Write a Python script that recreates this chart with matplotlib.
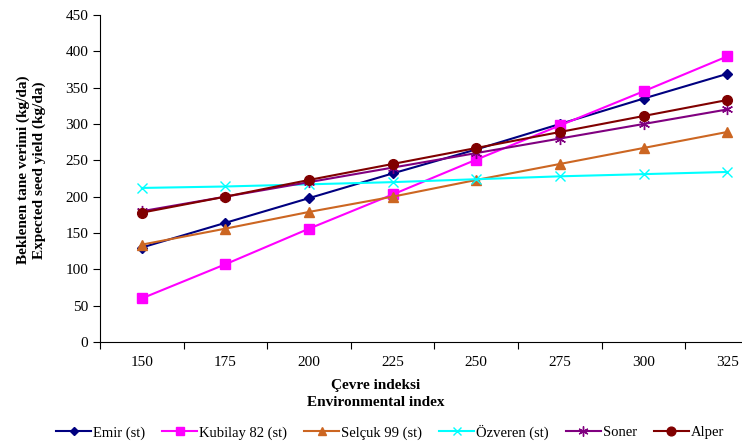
import numpy as np
import matplotlib.pyplot as plt
from matplotlib.ticker import FixedLocator, NullFormatter

plt.rcParams['font.family'] = ['Liberation Serif', 'DejaVu Serif']

env_index = ['150', '175', '200', '225', '250', '275', '300', '325']
emir = [130, 164, 198, 232, 265, 300, 335, 369]
kubilay = [60, 107, 156, 203, 251, 298, 345, 393]
selcuk = [134, 156, 179, 200, 223, 245, 267, 289]
ozveren = [212, 214, 217, 220, 224, 228, 231, 234]
soner = [180, 200, 220, 240, 260, 280, 300, 320]
alper = [178, 200, 223, 245, 267, 289, 311, 333]

series = [
    ('Emir (st)', emir, '#000080', 'D', 5),
    ('Kubilay 82 (st)', kubilay, '#FF00FF', 's', 7),
    ('Selçuk 99 (st)', selcuk, '#CC6622', '^', 7),
    ('Özveren (st)', ozveren, '#00FFFF', 'x', 7),
    ('Soner', soner, '#800080', (6, 2, 0), 8),
    ('Alper', alper, '#800000', 'o', 7),
]

fig = plt.figure(figsize=(7.42, 4.41), dpi=100)
# axis extends beyond the right edge, like the cropped original
ax = fig.add_axes([100/742, 1 - 342/441, 669/742, 327/441])

x = np.arange(len(env_index))
for name, vals, col, mk, ms in series:
    ax.plot(x, vals, color=col, marker=mk, markersize=ms, linewidth=1.5,
            markeredgecolor=col, markerfacecolor=col, label=name)

ax.set_xlim(-0.5, 7.5)
ax.set_ylim(0, 450)
ax.set_yticks(np.arange(0, 451, 50))
ax.xaxis.set_major_locator(FixedLocator(np.arange(-0.5, 8, 1)))
ax.xaxis.set_major_formatter(NullFormatter())
ax.set_xticks(x, minor=True)
ax.set_xticklabels(env_index, minor=True)
ax.tick_params(axis='x', which='minor', length=0, pad=10, labelsize=11)
ax.tick_params(axis='x', which='major', length=5, direction='out')
ax.tick_params(axis='y', length=5, direction='out', labelsize=11)
ax.spines['top'].set_visible(False)
ax.spines['right'].set_visible(False)

fig.text(31/742, 1 - 170/441, 'Beklenen tane verimi (kg/da)\nExpected seed yield (kg/da)',
         rotation=90, ha='center', va='center', fontweight='bold', fontsize=11,
         linespacing=1.2)
fig.text(376/742, 1 - 394/441, 'Çevre indeksi\nEnvironmental index',
         ha='center', va='center', fontweight='bold', fontsize=11, linespacing=1.4)

fig.legend(loc='center left', bbox_to_anchor=(56/742, 1 - 432/441), ncol=6,
           frameon=False, fontsize=10.5, handlelength=2.4, handletextpad=0.15,
           columnspacing=1.15, markerscale=0.9, borderaxespad=0, borderpad=0)

fig.savefig('out.png', dpi=100)
